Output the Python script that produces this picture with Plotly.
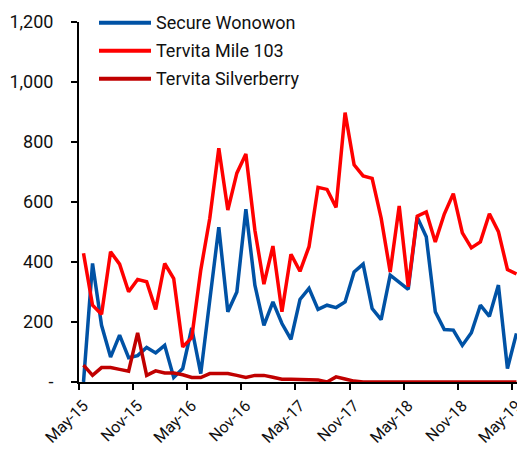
import pandas as pd
import plotly.graph_objects as go

# Monthly categories, May-15 .. May-19
MONTHS = pd.date_range("2015-05-01", periods=49, freq="MS").strftime("%b-%y").tolist()

SECURE_WONOWON = [
    0, 395, 189, 83, 156, 81, 88, 115, 97, 122,
    15, 45, 180, 28, 273, 516, 234, 300, 576, 323,
    189, 267, 195, 142, 275, 312, 242, 256, 248, 267,
    367, 393, 245, 208, 356, 334, 309, 549, 484, 234,
    175, 173, 122, 164, 256, 219, 323, 45, 162,
]
TERVITA_MILE_103 = [
    429, 256, 226, 434, 393, 301, 342, 334, 242, 395,
    345, 117, 148, 373, 546, 779, 573, 696, 760, 506,
    326, 453, 234, 426, 369, 451, 649, 642, 582, 898,
    724, 687, 679, 546, 367, 587, 317, 553, 567, 467,
    560, 628, 497, 447, 467, 561, 501, 375, 360,
]
TERVITA_SILVERBERRY = [
    56, 22, 48, 48, 42, 36, 164, 22, 37, 30,
    30, 24, 15, 15, 28, 28, 28, 22, 15, 22,
    22, 16, 9, 9, 9, 8, 7, 0, 17, 10,
    3, 0, 0, 0, 0, 0, 0, 0, 0, 0,
    0, 0, 0, 0, 0, 0, 0, 0, 0,
]

SERIES = [
    ("Secure Wonowon", SECURE_WONOWON, "#0052A5"),
    ("Tervita Mile 103", TERVITA_MILE_103, "#FF0000"),
    ("Tervita Silverberry", TERVITA_SILVERBERRY, "#C00000"),
]

Y_TICKS = [0, 200, 400, 600, 800, 1000, 1200]
Y_TICKTEXT = ["-", "200", "400", "600", "800", "1,000", "1,200"]

FONT = "Roboto, Liberation Sans, Arial, sans-serif"
FS = 18
W, H = 517, 449
M_L, M_R, M_T, M_B = 79, 0, 22, 67
PLOT_W = W - M_L - M_R
PLOT_H = H - M_T - M_B

fig = go.Figure()
for name, vals, color in SERIES:
    fig.add_scatter(
        x=MONTHS,
        y=vals,
        mode="lines",
        name=name,
        line=dict(color=color, width=3.5),
        showlegend=False,
    )

# hand-drawn legend (long line samples like the original)
for k, (name, _, color) in enumerate(SERIES):
    y_px = 22.7 + 28 * k
    yp = 1 - (y_px - M_T) / PLOT_H
    fig.add_shape(
        type="line", xref="paper", yref="paper",
        x0=(99 - M_L) / PLOT_W, x1=(151 - M_L) / PLOT_W, y0=yp, y1=yp,
        line=dict(color=color, width=4),
    )
    fig.add_annotation(
        text=name, xref="paper", yref="paper",
        x=(154 - M_L) / PLOT_W, y=yp, xanchor="left", yanchor="middle",
        showarrow=False, font=dict(size=FS, color="#111111", family=FONT),
    )

fig.update_layout(
    width=W,
    height=H,
    margin=dict(l=M_L, r=M_R, t=M_T, b=M_B, autoexpand=False),
    plot_bgcolor="white",
    paper_bgcolor="white",
    font=dict(family=FONT, size=FS, color="#111111"),
)
fig.update_xaxes(
    type="category",
    range=[-0.5, 48.06],
    tickmode="linear",
    tick0=0,
    dtick=6,
    tickson="boundaries",
    tickangle=-45,
    ticks="outside",
    ticklen=6,
    tickwidth=2,
    tickcolor="black",
    showline=True,
    linecolor="black",
    linewidth=2,
    showgrid=False,
    automargin=False,
    ticklabelstandoff=6,
    tickfont=dict(size=16),
)
fig.update_yaxes(
    range=[0, 1200],
    tickvals=Y_TICKS,
    ticktext=Y_TICKTEXT,
    ticks="outside",
    ticklen=6,
    tickwidth=2,
    tickcolor="black",
    showline=True,
    linecolor="black",
    linewidth=2,
    showgrid=False,
    zeroline=False,
    automargin=False,
    ticklabelstandoff=14,
    tickfont=dict(size=FS),
)

# drop the browser's default body margin so the figure sits at the window origin
fig.write_html(
    "out.html",
    config={"displayModeBar": False},
    post_script="document.body.style.margin='0';",
)
